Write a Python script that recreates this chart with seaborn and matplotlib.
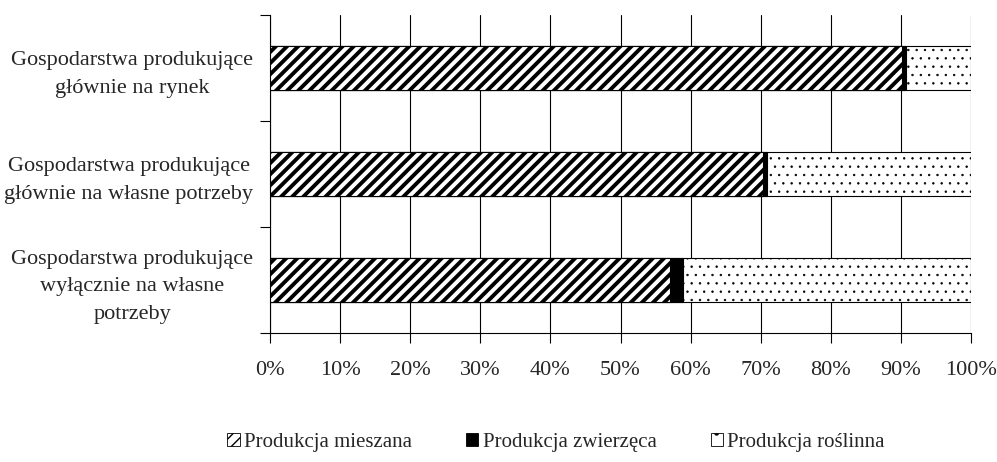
import numpy as np
import pandas as pd
import matplotlib
matplotlib.use("Agg")
import matplotlib.pyplot as plt
from matplotlib.patches import Patch
from matplotlib.ticker import FixedLocator, PercentFormatter
import seaborn as sns

sns.set_style("white")
plt.rcParams['font.family'] = ['Liberation Serif', 'DejaVu Serif']
plt.rcParams['font.size'] = 16
plt.rcParams['hatch.linewidth'] = 1.0

categories = [
    "Gospodarstwa produkujące\ngłównie na rynek",
    "Gospodarstwa produkujące\ngłównie na własne potrzeby",
    "Gospodarstwa produkujące\nwyłącznie na własne\npotrzeby",
]
mieszana = [90.2, 70.3, 57.1]
zwierzeca = [0.5, 0.6, 1.8]
roslinna = [9.3, 29.1, 41.1]

series_labels = ["Produkcja mieszana", "Produkcja zwierzęca", "Produkcja roślinna"]

df = pd.DataFrame({"kat": categories, "mieszana": mieszana,
                   "zwierzeca": zwierzeca, "roslinna": roslinna})
df["cum_z"] = df["mieszana"] + df["zwierzeca"]
df["cum_r"] = df["cum_z"] + df["roslinna"]

fig = plt.figure(figsize=(9.97, 4.62), dpi=100)
ax = fig.add_axes([270 / 997, 1 - 333 / 462, (971 - 270) / 997, (333 - 15) / 462])

bw = 0.415
sns.barplot(data=df, x="cum_r", y="kat", orient="h", width=bw, color="white",
            edgecolor="black", linewidth=0.8, hatch="..", ax=ax, zorder=3)
sns.barplot(data=df, x="cum_z", y="kat", orient="h", width=bw, color="black",
            edgecolor="black", linewidth=0.8, ax=ax, zorder=3)
sns.barplot(data=df, x="mieszana", y="kat", orient="h", width=bw, color="white",
            edgecolor="black", linewidth=0.8, hatch="///", ax=ax, zorder=3)
for p in ax.containers[2]:
    p.set_hatch_linewidth(2.8)
for p in ax.containers[0]:
    p.set_hatch_linewidth(0.5)
for c in ax.containers:
    for p in c:
        p.set_facecolor(p.get_facecolor()[:3] + (1,))

ax.set_xlim(0, 100)
ax.set_ylim(2.5, -0.5)
ax.xaxis.set_major_locator(FixedLocator(np.arange(0, 101, 10)))
ax.xaxis.set_major_formatter(PercentFormatter(decimals=0))
ax.grid(axis="x", color="black", linewidth=0.8, zorder=0)
ax.set_axisbelow(True)
ax.yaxis.set_minor_locator(FixedLocator([-0.5, 0.5, 1.5, 2.5]))
ax.tick_params(axis="y", which="major", length=0, pad=12)
ax.tick_params(axis="y", which="minor", length=7, width=0.8, color="black", left=True)
ax.tick_params(axis="x", which="major", length=7, width=0.8, color="black", bottom=True, pad=13)
for lab in ax.get_yticklabels():
    lab.set_multialignment("center")
    lab.set_linespacing(1.6)
ax.set_xlabel("")
ax.set_ylabel("")
for s in ["top", "right"]:
    ax.spines[s].set_visible(False)
ax.spines["left"].set_color("black")
ax.spines["bottom"].set_color("black")
ax.spines["left"].set_linewidth(0.8)
ax.spines["bottom"].set_linewidth(0.8)

handles = [
    Patch(facecolor="white", edgecolor="black", hatch="///", linewidth=0.6),
    Patch(facecolor="black", edgecolor="black", linewidth=0.6),
    Patch(facecolor="white", edgecolor="black", hatch=".", linewidth=0.6),
]
fig.legend(handles, series_labels, loc="center", bbox_to_anchor=(556 / 997, 1 - 442 / 462),
           ncol=3, frameon=False, prop={"size": 15}, handlelength=0.6, handleheight=0.6,
           handletextpad=0.2, columnspacing=2.6)

fig.savefig("out.png", dpi=100)
